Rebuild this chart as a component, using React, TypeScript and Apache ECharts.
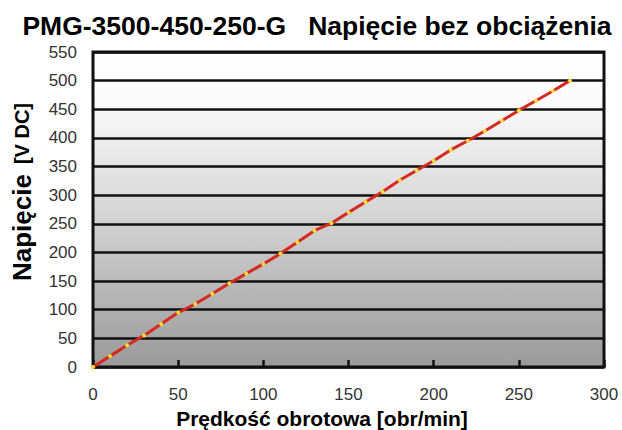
import React, { useEffect, useRef } from "react";
import * as echarts from "echarts";

const titleText = "PMG-3500-450-250-G   Napięcie bez obciążenia";
const xName = "Prędkość obrotowa [obr/min]";
const yNameMain = "Napięcie";
const yNameUnit = "[V DC]";
const speed = [0, 10, 20, 30, 40, 50, 60, 70, 80, 90, 100, 110, 120, 130, 140, 150, 160, 170, 180, 190, 200, 210, 220, 230, 240, 250, 260, 270, 280];
const voltage = [0, 19, 38, 55, 75, 95, 110, 128, 146, 163, 180, 198, 218, 238, 251, 270, 288, 306, 326, 343, 360, 379, 395, 412, 430, 448, 465, 482, 500];

export default function App() {
  const ref = useRef<HTMLDivElement>(null);
  useEffect(() => {
    if (!ref.current) return;
    const chart = echarts.init(ref.current, null, { renderer: "svg" });
    const font = "'Liberation Sans', Arial, sans-serif";
    chart.setOption({
      animation: false,
      backgroundColor: "#ffffff",
      graphic: [
        {
          type: "text",
          x: 317,
          y: 26,
          style: {
            text: titleText,
            fontFamily: font,
            fontWeight: "bold",
            fontSize: 26.5,
            fill: "#000",
            align: "center",
            verticalAlign: "middle",
          },
        },
        {
          type: "text",
          x: 322,
          y: 418,
          style: {
            text: xName,
            fontFamily: font,
            fontWeight: "bold",
            fontSize: 21,
            fill: "#000",
            align: "center",
            verticalAlign: "middle",
          },
        },
        {
          type: "text",
          x: 22,
          y: 192,
          rotation: Math.PI / 2,
          style: {
            text: "{a|" + yNameMain + "}   {b|" + yNameUnit + "}",
            align: "center",
            verticalAlign: "middle",
            rich: {
              a: { fontFamily: font, fontWeight: "bold", fontSize: 26, fill: "#000", color: "#000" },
              b: { fontFamily: font, fontWeight: "bold", fontSize: 20, fill: "#000", color: "#000" },
            },
          },
        },
      ],
      grid: {
        left: 93,
        right: 18,
        top: 52,
        bottom: 63,
        show: true,
        borderColor: "#111",
        borderWidth: 3,
        backgroundColor: new echarts.graphic.LinearGradient(0, 0, 0, 1, [
          { offset: 0, color: "#ffffff" },
          { offset: 0.15, color: "#fbfbfb" },
          { offset: 0.5, color: "#d6d6d6" },
          { offset: 1, color: "#9a9a9a" },
        ]),
      },
      xAxis: {
        type: "value",
        min: 0,
        max: 300,
        interval: 50,
        axisLine: { show: false },
        axisTick: { show: true, inside: true, length: 7, lineStyle: { color: "#111", width: 2.5 } },
        splitLine: { show: false },
        axisLabel: { fontFamily: font, fontSize: 17, color: "#333", margin: 19 },
      },
      yAxis: {
        type: "value",
        min: 0,
        max: 550,
        interval: 50,
        axisLine: { show: false },
        axisTick: { show: false },
        splitLine: { show: true, lineStyle: { color: "#111", width: 2.5 } },
        axisLabel: { fontFamily: font, fontSize: 17, color: "#333", margin: 16 },
      },
      series: [
        {
          type: "line",
          data: speed.map((s, i) => [s, voltage[i]]),
          lineStyle: { color: "#d42a20", width: 3 },
          symbol: "circle",
          symbolSize: 4,
          itemStyle: { color: "#ffe030", borderWidth: 0 },
          z: 5,
        },
      ],
    });
    return () => chart.dispose();
  }, []);
  return <div ref={ref} style={{ width: 622, height: 430, position: "absolute", left: 0, top: 0 }} />;
}
